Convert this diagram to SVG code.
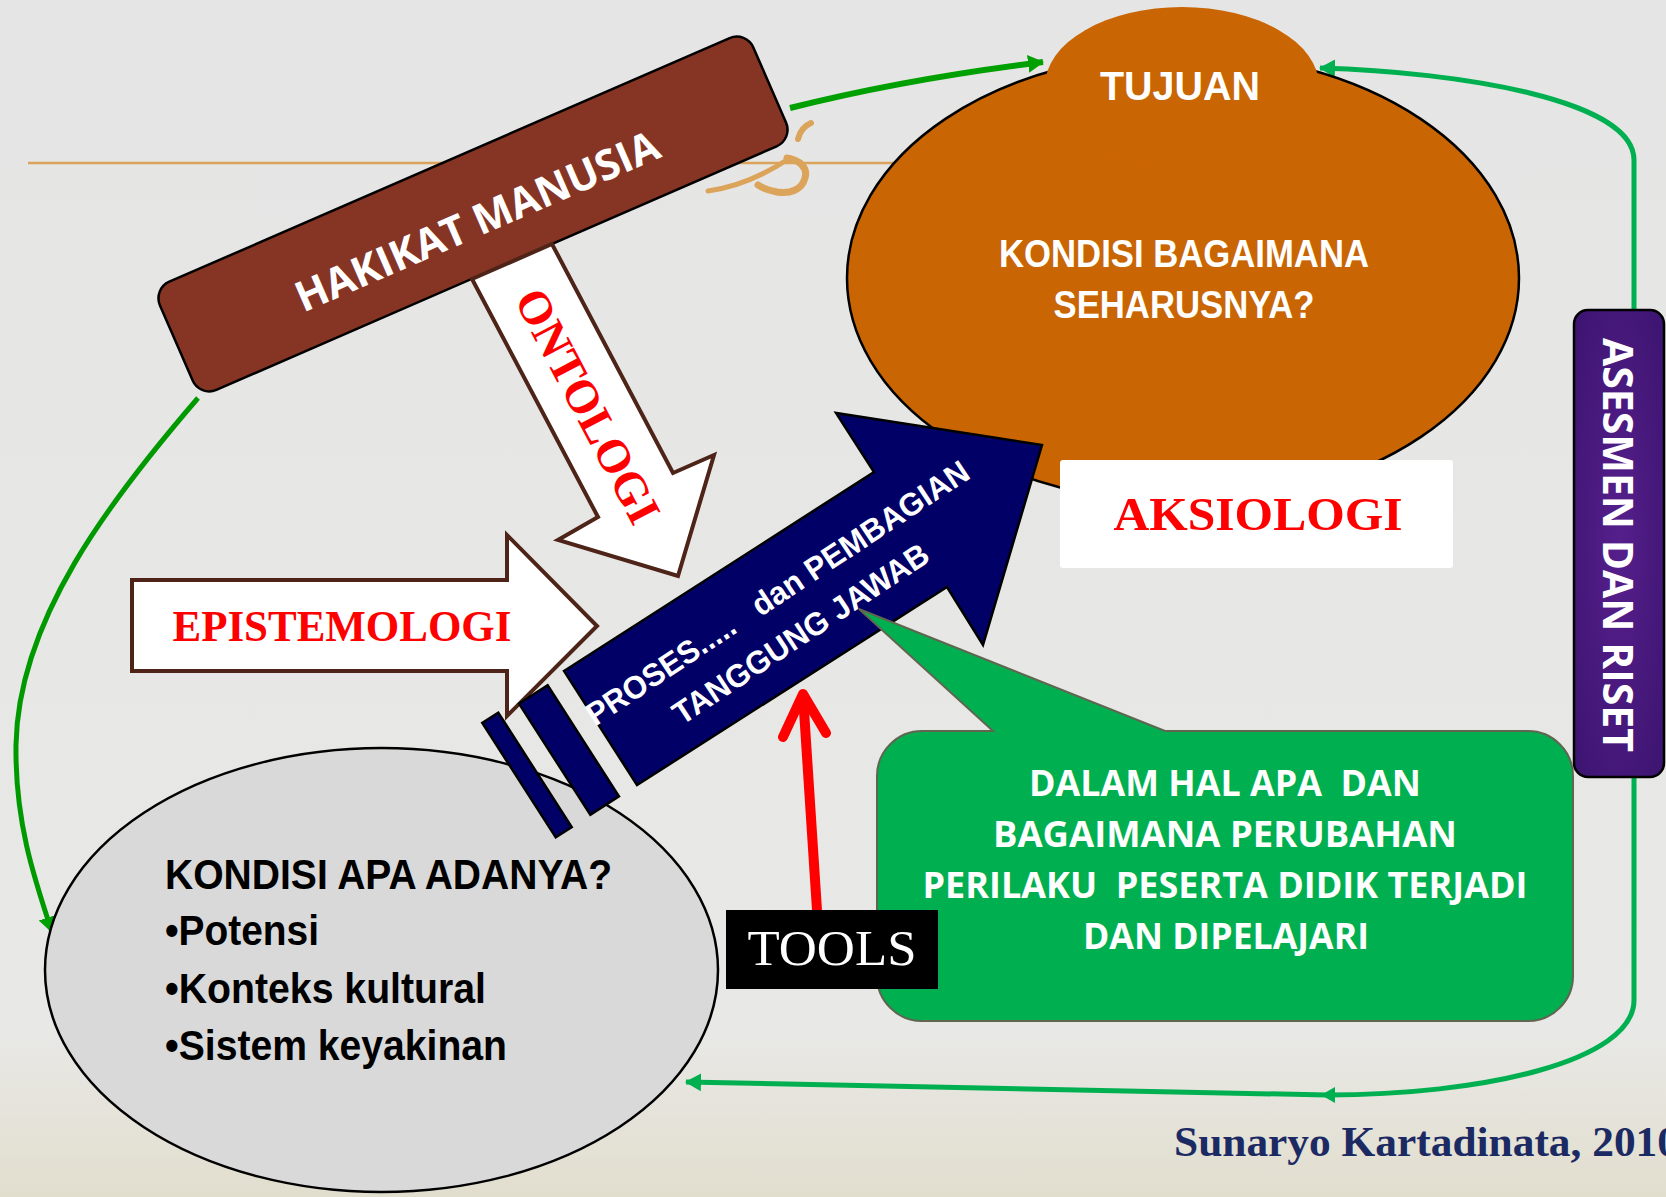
<svg xmlns="http://www.w3.org/2000/svg" width="1666" height="1197" viewBox="0 0 1666 1197">
<defs>
<linearGradient id="bg" x1="0" y1="0" x2="0" y2="1">
<stop offset="0" stop-color="#e5e5e5"/>
<stop offset="0.86" stop-color="#e8e8e6"/>
<stop offset="1" stop-color="#e2dece"/>
</linearGradient>
<radialGradient id="purp" cx="0.5" cy="0.5" r="0.7">
<stop offset="0" stop-color="#561f8c"/>
<stop offset="1" stop-color="#3c1470"/>
</radialGradient>
<marker id="ahDark" markerUnits="userSpaceOnUse" markerWidth="20" markerHeight="20" refX="15" refY="9" orient="auto">
<path d="M0,0 L16,9 L0,18 z" fill="#00a000"/>
</marker>
<marker id="ahLight" markerUnits="userSpaceOnUse" markerWidth="20" markerHeight="20" refX="15" refY="9" orient="auto">
<path d="M0,0 L16,9 L0,18 z" fill="#00b050"/>
</marker>
<marker id="ahLightS" markerUnits="userSpaceOnUse" markerWidth="20" markerHeight="20" refX="8" refY="8" orient="auto">
<path d="M0,0 L14,8 L0,16 z" fill="#00b050"/>
</marker>
</defs>
<style>
.cond{font-family:"Liberation Sans",Arial,sans-serif;font-weight:bold}
.open{font-family:"Open Sans","Liberation Sans",sans-serif;font-weight:bold}
.serif{font-family:"Liberation Serif","Times New Roman",serif}
.white{fill:#ffffff}
.red{fill:#ff0000}
.hollow{fill:#ffffff;stroke:#4d2417;stroke-width:4;stroke-linejoin:miter}
.navy{fill:#000066;stroke:#000000;stroke-width:2.5}
</style>

<rect x="0" y="0" width="1666" height="1197" fill="url(#bg)"/>
<line x1="28" y1="163" x2="900" y2="163" stroke="#dba45a" stroke-width="2.5"/>
<g fill="none" stroke="#dba45a" stroke-linecap="round">
<path d="M787,158 C800,160 808,168 805,178 C802,190 790,194 777,192 C768,190 762,188 758,185" stroke-width="7"/>
<path d="M790,158 C772,170 745,186 708,191" stroke-width="5"/>
<path d="M811,123 C804,126 800,131 798,139" stroke-width="6"/>
</g>

<g id="connectors" fill="none">
<path d="M198,398 C110,500 18,620 16,745 C15,820 33,875 52,932" stroke="#009900" stroke-width="5" marker-end="url(#ahDark)"/>
<path d="M790,108 Q905,79 1043,62" stroke="#00a000" stroke-width="6" marker-end="url(#ahDark)"/>
<path d="M1634,310 L1634,160 C1634,100 1460,72 1320,68" stroke="#00b050" stroke-width="5" marker-end="url(#ahLight)"/>
<path d="M1634,776 L1634,1000 C1634,1062 1480,1095 1327,1095" stroke="#00b050" stroke-width="5" marker-end="url(#ahLightS)"/>
<path d="M1327,1095 L686,1082" stroke="#00b050" stroke-width="5" marker-end="url(#ahLight)"/>
</g>

<g id="hakikat">
<g transform="translate(473,214) rotate(-23.5)">
<rect x="-323.5" y="-59" width="647" height="118" rx="18" fill="#863524" stroke="#000" stroke-width="2.5"/>
<text x="1" y="23" text-anchor="middle" class="open white" font-size="42" textLength="392" lengthAdjust="spacingAndGlyphs">HAKIKAT MANUSIA</text>
</g>
</g>

<g id="tujuan">
<ellipse cx="1183" cy="278" rx="336" ry="225" fill="#c96502" stroke="#000" stroke-width="2.5"/>
<ellipse cx="1182" cy="86" rx="137" ry="79" fill="#c96502"/>
<text x="1180" y="100" text-anchor="middle" class="cond white" font-size="40" textLength="160" lengthAdjust="spacingAndGlyphs">TUJUAN</text>
<text x="1184" y="267" text-anchor="middle" class="cond white" font-size="38" textLength="370" lengthAdjust="spacingAndGlyphs">KONDISI BAGAIMANA</text>
<text x="1184" y="318" text-anchor="middle" class="cond white" font-size="38" textLength="261" lengthAdjust="spacingAndGlyphs">SEHARUSNYA?</text>
</g>

<g id="aksiologi">
<rect x="1060" y="460" width="393" height="108" rx="3" fill="#ffffff"/>
<text x="1258" y="530" text-anchor="middle" class="serif red" font-weight="bold" font-size="47" textLength="289" lengthAdjust="spacingAndGlyphs">AKSIOLOGI</text>
</g>

<g id="kondisi-apa">
<ellipse cx="381.5" cy="970" rx="336.5" ry="222" fill="#d9d9d9" stroke="#000" stroke-width="2.5"/>
<text x="165" y="889" class="cond" fill="#000" font-size="42" textLength="447" lengthAdjust="spacingAndGlyphs">KONDISI APA ADANYA?</text>
<text x="165" y="945" class="cond" fill="#000" font-size="42" textLength="154" lengthAdjust="spacingAndGlyphs">•Potensi</text>
<text x="165" y="1003" class="cond" fill="#000" font-size="42" textLength="321" lengthAdjust="spacingAndGlyphs">•Konteks kultural</text>
<text x="165" y="1060" class="cond" fill="#000" font-size="42" textLength="342" lengthAdjust="spacingAndGlyphs">•Sistem keyakinan</text>
</g>

<g id="epistemologi">
<polygon class="hollow" points="132,580 507,580 507,535 597,626 507,716 507,671 132,671"/>
<text x="342" y="641" text-anchor="middle" class="serif red" font-weight="bold" font-size="44" textLength="339" lengthAdjust="spacingAndGlyphs">EPISTEMOLOGI</text>
</g>

<g id="ontologi">
<polygon class="hollow" points="472,279 552,244 673,473 714,455 678,576 558,540 598,517"/>
<g transform="translate(588,406) rotate(62.2)">
<text x="0" y="16" text-anchor="middle" class="serif red" font-weight="bold" font-size="47" textLength="258" lengthAdjust="spacingAndGlyphs">ONTOLOGI</text>
</g>
</g>

<g id="proses">
<g transform="translate(527,775) rotate(-32.7)"><rect x="-9.5" y="-68" width="19" height="136" class="navy"/></g>
<g transform="translate(569,750) rotate(-32.7)"><rect x="-17" y="-66" width="34" height="132" class="navy"/></g>
<polygon class="navy" points="564,671 874,472 836,413 1042,445 983,645 947,587 637,785"/>
<g transform="translate(790,612) rotate(-33.5)">
<text x="0" y="-12" text-anchor="middle" class="cond white" font-size="32" xml:space="preserve" textLength="452" lengthAdjust="spacingAndGlyphs">PROSES.....   dan PEMBAGIAN</text>
<text x="-3" y="35" text-anchor="middle" class="cond white" font-size="32" textLength="300" lengthAdjust="spacingAndGlyphs">TANGGUNG JAWAB</text>
</g>
</g>

<g id="callout">
<path d="M922,731 L993,731 L859,609 L1165,731 L1528,731 A45,45 0 0 1 1573,776 L1573,976 A45,45 0 0 1 1528,1021 L922,1021 A45,45 0 0 1 877,976 L877,776 A45,45 0 0 1 922,731 Z" fill="#00b050" stroke="#5f6650" stroke-width="2"/>
<text x="1225" y="796" text-anchor="middle" class="open white" font-size="35" xml:space="preserve" textLength="392" lengthAdjust="spacingAndGlyphs">DALAM HAL APA  DAN</text>
<text x="1225" y="847" text-anchor="middle" class="open white" font-size="35" textLength="464" lengthAdjust="spacingAndGlyphs">BAGAIMANA PERUBAHAN</text>
<text x="1225" y="898" text-anchor="middle" class="open white" font-size="35" xml:space="preserve" textLength="605" lengthAdjust="spacingAndGlyphs">PERILAKU  PESERTA DIDIK TERJADI</text>
<text x="1226" y="949" text-anchor="middle" class="open white" font-size="35" textLength="286" lengthAdjust="spacingAndGlyphs">DAN DIPELAJARI</text>
</g>

<g id="tools">
<path d="M817,910 L803,695 M783,737 L803,694 L826,733" fill="none" stroke="#ff0000" stroke-width="10" stroke-linecap="round" stroke-linejoin="round"/>
<rect x="726" y="910" width="212" height="79" fill="#000"/>
<text x="832" y="965" text-anchor="middle" class="serif white" font-size="51" textLength="169" lengthAdjust="spacingAndGlyphs">TOOLS</text>
</g>

<g id="asesmen">
<rect x="1574" y="310" width="90" height="467" rx="14" fill="url(#purp)" stroke="#000" stroke-width="2.5"/>
<g transform="translate(1618,545) rotate(90)">
<text x="0" y="15" text-anchor="middle" class="open white" font-size="42" textLength="414" lengthAdjust="spacingAndGlyphs">ASESMEN DAN RISET</text>
</g>
</g>

<text x="1174" y="1156" class="serif" font-weight="bold" fill="#1b2a63" font-size="42" textLength="505" lengthAdjust="spacingAndGlyphs">Sunaryo Kartadinata, 2010</text>
</svg>
